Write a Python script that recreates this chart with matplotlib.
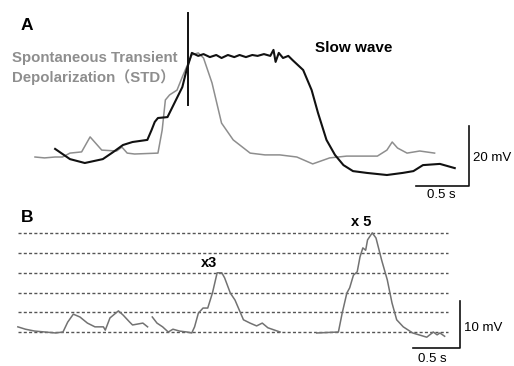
import matplotlib
matplotlib.use("Agg")
import matplotlib.pyplot as plt

# ---- panel A: STD (gray) and slow wave (black); time in s, voltage in mV
std_t = [0.33, 0.42, 0.52, 0.59, 0.66, 0.77, 0.85, 0.96, 1.10, 1.15, 1.20, 1.27, 1.49,
         1.53, 1.56, 1.60, 1.67, 1.72, 1.76, 1.81, 1.87, 1.92, 2.00, 2.09, 2.20, 2.36,
         2.50, 2.64, 2.80, 2.95, 3.11, 3.27, 3.56, 3.65, 3.70, 3.75, 3.84, 3.96, 4.10]
std_v = [1.0, 0.7, 1.0, 1.0, 2.3, 2.7, 7.7, 3.3, 3.0, 4.3, 2.3, 2.0, 2.3,
         10.0, 20.0, 21.7, 23.3, 27.7, 31.0, 35.0, 35.7, 34.0, 25.7, 12.3, 6.7, 2.3,
         1.7, 1.7, 1.0, -1.3, 0.7, 1.3, 1.3, 3.3, 6.0, 4.0, 2.3, 3.0, 2.3]

sw_t = [0.52, 0.66, 0.80, 0.97, 1.07, 1.16, 1.25, 1.39, 1.43, 1.46, 1.49, 1.58, 1.65,
        1.72, 1.76, 1.81, 1.87, 1.92, 1.98, 2.04, 2.09, 2.15, 2.21, 2.26, 2.32, 2.38,
        2.43, 2.49, 2.55, 2.58, 2.60, 2.63, 2.67, 2.72, 2.76, 2.86, 2.94, 3.00, 3.08,
        3.16, 3.24, 3.33, 3.46, 3.65, 3.80, 3.90, 3.99, 4.15, 4.29]
sw_v = [3.7, 0.3, -1.0, 0.3, 2.7, 5.0, 6.0, 6.7, 10.0, 12.7, 14.0, 14.3, 19.3,
        24.3, 30.0, 35.7, 34.7, 35.3, 34.3, 35.0, 34.0, 35.0, 34.3, 35.0, 34.3, 35.0,
        34.7, 35.3, 34.7, 36.7, 32.7, 35.7, 34.0, 34.7, 33.3, 30.0, 23.3, 15.7, 6.7,
        1.7, -1.7, -3.7, -4.3, -5.0, -4.3, -3.7, -1.7, -1.3, -2.7]

artifact_t = 1.77
artifact_v = [18.3, 49.0]

# ---- panel B: spontaneous transients (gray), three segments
b1_t = [0.19, 0.27, 0.37, 0.48, 0.59, 0.67, 0.72, 0.78, 0.85, 0.93, 1.01, 1.10, 1.12,
        1.17, 1.26, 1.31, 1.38, 1.41, 1.52, 1.57]
b1_v = [1.1, 0.6, 0.2, 0.0, -0.2, 0.0, 2.1, 3.8, 3.2, 1.9, 1.1, 1.1, 0.4,
        3.0, 4.5, 3.6, 2.1, 1.5, 1.9, 1.1]
b2_t = [1.62, 1.67, 1.73, 1.79, 1.84, 1.91, 1.99, 2.04, 2.07, 2.11, 2.16, 2.21, 2.26,
        2.31, 2.36, 2.39, 2.45, 2.50, 2.59, 2.66, 2.73, 2.79, 2.85, 2.98]
b2_v = [3.2, 1.9, 1.1, 0.0, 0.6, 0.2, 0.0, -0.2, 1.1, 4.0, 5.1, 5.1, 8.3,
        12.6, 12.6, 11.5, 8.3, 6.8, 2.6, 1.9, 1.3, 1.9, 0.9, 0.0]
b3_t = [3.37, 3.60, 3.64, 3.69, 3.72, 3.76, 3.80, 3.83, 3.86, 3.89, 3.91, 3.96, 4.00,
        4.06, 4.12, 4.17, 4.22, 4.29, 4.39, 4.54, 4.61, 4.65, 4.68, 4.73]
b3_v = [-0.2, 0.0, 4.0, 8.3, 9.4, 12.1, 12.8, 16.0, 17.9, 17.4, 19.6, 21.1, 20.0,
        15.3, 11.1, 6.2, 2.6, 1.1, -0.2, -1.1, 0.0, -0.6, -0.2, -0.9]

unit_mv = 4.2                 # one STD amplitude
levels = [0, 1, 2, 3, 4, 5]   # dotted reference lines, multiples of unit
grid_t = [0.19, 4.77]

GRAY_A = "#8e8e8e"
GRAY_B = "#727272"
BLACK = "#111111"

W, H = 514, 366
fig = plt.figure(figsize=(W / 100, H / 100), dpi=100)
plt.rcParams["font.family"] = ["Liberation Sans", "Noto Sans CJK JP", "DejaVu Sans"]


def fx(x, y):
    return x / W, 1 - y / H


# panel A
axA = fig.add_axes([0, 166 / H, 1, 200 / H])
axA.set_xlim(0, W / 106)
axA.set_ylim(-13.33, 53.33)
axA.axis("off")
axA.plot(std_t, std_v, color=GRAY_A, lw=1.1)
axA.plot(sw_t, sw_v, color=BLACK, lw=1.5)
axA.plot([artifact_t, artifact_t], artifact_v, color=BLACK, lw=1.4)
axA.plot([3.92, 4.42, 4.42], [-8.67, -8.67, 11.33], color=BLACK, lw=1.2)

# panel B
axB = fig.add_axes([0, 0, 1, 166 / H])
axB.set_xlim(0, W / 94)
axB.set_ylim(-7.23, 28.09)
axB.axis("off")
for k in levels:
    axB.plot(grid_t, [k * unit_mv] * 2, color="#555555", lw=1.0,
             linestyle=(0, (2.2, 1.6)))
for t, v in [(b1_t, b1_v), (b2_t, b2_v), (b3_t, b3_v)]:
    axB.plot(t, v, color=GRAY_B, lw=1.1)
axB.plot([4.39, 4.89, 4.89], [-3.4, -3.4, 6.6], color=BLACK, lw=1.2)

# labels
fig.text(*fx(27, 25), "A", fontsize=12.5, fontweight="bold", ha="center", va="center")
fig.text(*fx(12, 58), "Spontaneous Transient", fontsize=10.8, fontweight="bold",
         color=GRAY_A, ha="left", va="center")
fig.text(*fx(12, 77), "Depolarization（STD）", fontsize=10.8, fontweight="bold",
         color=GRAY_A, ha="left", va="center")
fig.text(*fx(315, 48), "Slow wave", fontsize=11, fontweight="bold",
         ha="left", va="center")
fig.text(*fx(473, 158), "20 mV", fontsize=9.5, ha="left", va="center")
fig.text(*fx(427, 195), "0.5 s", fontsize=9.5, ha="left", va="center")

fig.text(*fx(27, 218), "B", fontsize=12.5, fontweight="bold", ha="center", va="center")
fig.text(*fx(209, 263), "x3", fontsize=10.5, fontweight="bold", ha="center", va="center")
fig.text(*fx(361, 222), "x 5", fontsize=10.5, fontweight="bold", ha="center", va="center")
fig.text(*fx(464, 328), "10 mV", fontsize=9.5, ha="left", va="center")
fig.text(*fx(418, 359), "0.5 s", fontsize=9.5, ha="left", va="center")

fig.savefig("out.png", dpi=100, facecolor="white")
